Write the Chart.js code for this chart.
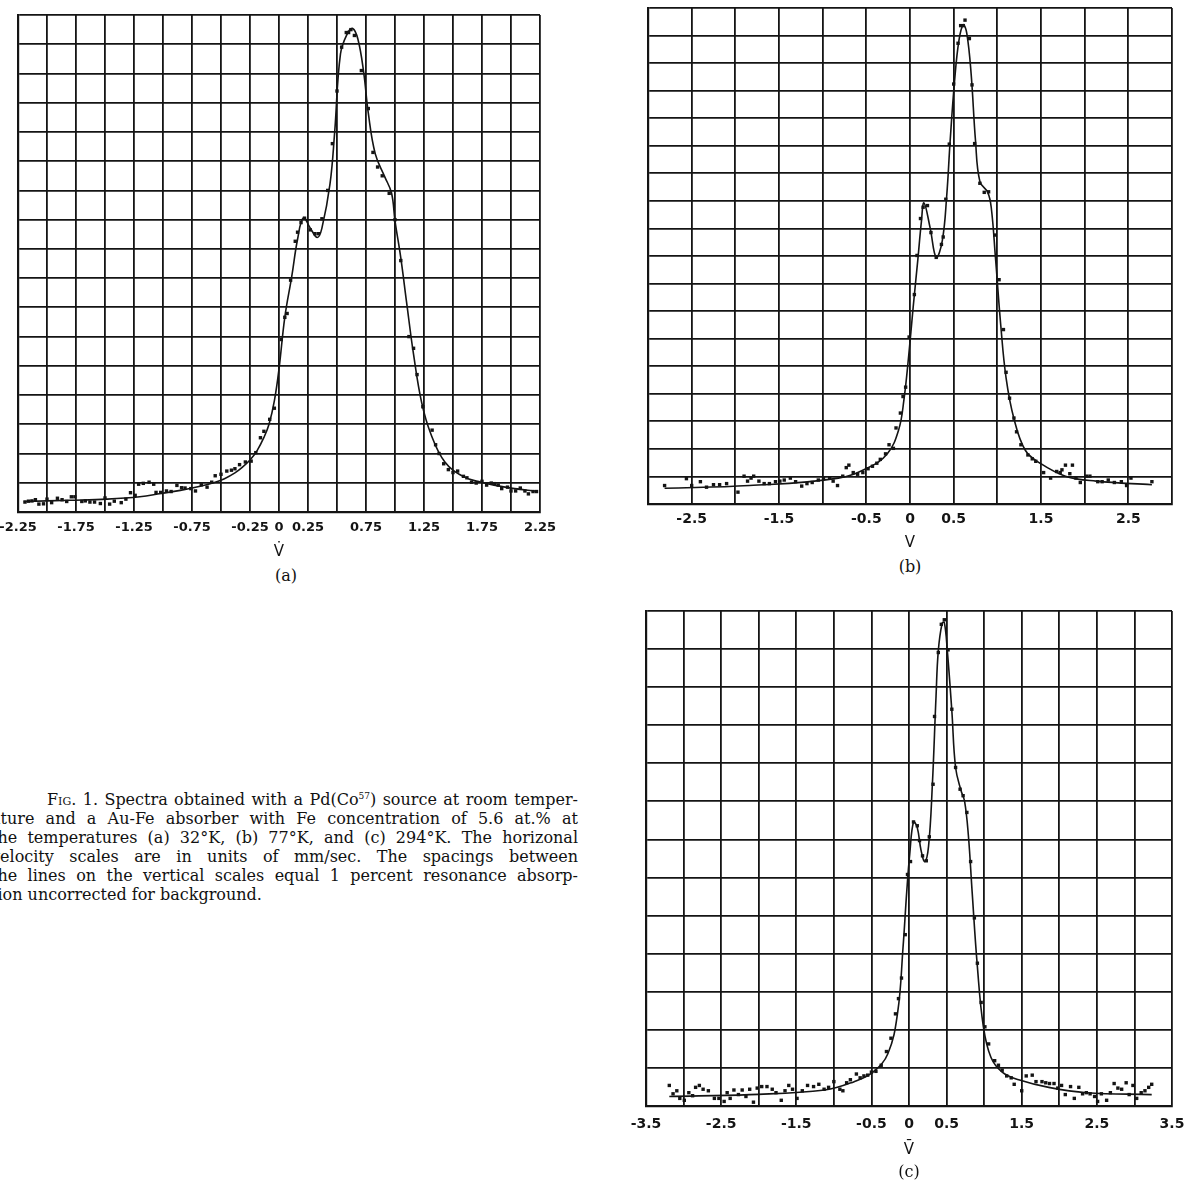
<!DOCTYPE html>
<html>
<head>
<meta charset="utf-8">
<script src="https://cdn.jsdelivr.net/npm/chart.js@4"></script>
<style>
  html, body { margin: 0; padding: 0; background: #fff; }
  body { width: 1184px; height: 1180px; position: relative; overflow: hidden; }
  .panel { position: absolute; }
  .tag { position: absolute; font-family: "DejaVu Serif", serif; font-size: 16px; color: #111; transform: translateX(-50%); }
  #caption { position: absolute; left: -9px; top: 790px; width: 587px; font-family: "DejaVu Serif", serif; font-size: 16px; line-height: 19px; color: #111; }
  #caption .ln { text-align: justify; text-align-last: justify; }
  #caption .first { text-indent: 56px; }
  #caption .last { text-align: left; text-align-last: left; }
  .sc { font-variant: small-caps; }
  sup { font-size: 9px; line-height: 0; }
</style>
</head>
<body>

<div class="panel" style="left:-12px; top:0; width:590px; height:565px;"><canvas id="plot-a"></canvas></div>
<div class="panel" style="left:600px; top:0; width:584px; height:556px;"><canvas id="plot-b"></canvas></div>
<div class="panel" style="left:600px; top:590px; width:620px; height:573px;"><canvas id="plot-c"></canvas></div>

<div class="tag" style="left:286px; top:566px;">(a)</div>
<div class="tag" style="left:910px; top:557px;">(b)</div>
<div class="tag" style="left:909px; top:1162px;">(c)</div>

<div id="caption">
  <div class="ln first"><span class="sc">Fig</span>. 1. Spectra obtained with a Pd(Co<sup>57</sup>) source at room temper-</div>
  <div class="ln">ature and a Au-Fe absorber with Fe concentration of 5.6 at.% at</div>
  <div class="ln">the temperatures (a) 32°K, (b) 77°K, and (c) 294°K. The horizonal</div>
  <div class="ln">velocity scales are in units of mm/sec. The spacings between</div>
  <div class="ln">the lines on the vertical scales equal 1 percent resonance absorp-</div>
  <div class="ln last">tion uncorrected for background.</div>
</div>

<script>
// (a) 32 K  -- y in percent absorption above the bottom edge
const ticksA = ['-2.25', '-1.75', '-1.25', '-0.75', '-0.25', '0', '0.25', '0.75', '1.25', '1.75', '2.25'];
const lineA = [
  [-2.20,0.36],[-1.80,0.40],[-1.48,0.44],[-1.20,0.52],[-1.02,0.63],[-0.85,0.74],[-0.68,0.88],
  [-0.55,1.02],[-0.47,1.14],[-0.38,1.34],[-0.32,1.52],[-0.25,1.78],[-0.19,2.09],[-0.13,2.55],
  [-0.086,3.0],[-0.04,3.8],[0,4.89],[0.05,6.66],[0.11,8.06],[0.16,9.33],[0.21,10.06],[0.27,9.71],
  [0.33,9.39],[0.37,9.71],[0.44,11.23],[0.48,13.0],[0.53,15.67],[0.59,16.37],[0.635,16.54],
  [0.68,16.18],[0.73,15.04],[0.77,13.64],[0.83,12.25],[0.91,11.48],[0.97,10.91],[1.0,9.96],
  [1.05,8.69],[1.10,7.17],[1.16,5.39],[1.23,3.74],[1.31,2.66],[1.43,1.71],[1.59,1.21],
  [1.74,1.02],[1.95,0.85],[2.23,0.70]
];
const dotsA = [
  [-2.19,0.34],[-2.16,0.37],[-2.13,0.38],[-2.10,0.42],[-2.07,0.27],[-2.03,0.28],[-2.00,0.44],
  [-1.96,0.32],[-1.91,0.47],[-1.87,0.42],[-1.83,0.36],[-1.79,0.52],[-1.76,0.52],[-1.70,0.36],
  [-1.67,0.38],[-1.63,0.34],[-1.59,0.34],[-1.54,0.29],[-1.50,0.48],[-1.46,0.27],[-1.42,0.37],
  [-1.36,0.32],[-1.32,0.44],[-1.28,0.66],[-1.24,0.57],[-1.21,0.95],[-1.17,0.98],[-1.12,1.02],
  [-1.08,0.95],[-1.06,0.67],[-1.02,0.67],[-0.97,0.72],[-0.93,0.70],[-0.88,0.91],[-0.84,0.83],
  [-0.81,0.82],[-0.76,0.80],[-0.72,0.72],[-0.67,0.93],[-0.62,0.85],[-0.58,1.02],[-0.55,1.24],
  [-0.50,1.29],[-0.45,1.40],[-0.41,1.43],[-0.38,1.48],[-0.34,1.62],[-0.29,1.71],[-0.24,1.74],
  [-0.20,2.03],[-0.16,2.54],[-0.13,2.76],[-0.08,3.17],[-0.04,3.55],[0.02,5.90],[0.05,6.66],
  [0.07,6.79],[0.10,7.93],[0.14,9.26],[0.16,9.57],[0.19,9.90],[0.22,10.05],[0.27,9.65],
  [0.31,9.52],[0.34,9.52],[0.37,10.03],[0.42,11.0],[0.46,12.6],[0.50,14.4],[0.54,15.9],
  [0.58,16.4],[0.60,16.4],[0.62,16.5],[0.65,16.3],[0.71,15.1],[0.77,13.8],[0.81,12.3],
  [0.85,11.8],[0.89,11.5],[0.95,10.9],[1.00,10.0],[1.05,8.6],[1.12,6.0],[1.16,5.6],[1.19,4.7],
  [1.24,3.6],[1.32,2.8],[1.35,2.3],[1.38,2.0],[1.42,1.65],[1.46,1.45],[1.50,1.35],[1.54,1.40],
  [1.59,1.22],[1.62,1.17],[1.66,1.02],[1.70,0.99],[1.75,1.05],[1.79,0.92],[1.83,0.99],
  [1.86,0.97],[1.89,0.92],[1.92,0.80],[1.97,0.85],[2.00,0.72],[2.04,0.72],[2.08,0.82],
  [2.12,0.72],[2.15,0.62],[2.19,0.70],[2.22,0.70]
];

// (b) 77 K
const ticksB = ['-2.5', '-1.5', '-0.5', '0', '0.5', '1.5', '2.5'];
const lineB = [
  [-2.81,0.57],[-1.84,0.67],[-0.82,0.94],[-0.48,1.32],[-0.26,1.82],[-0.13,2.69],[-0.07,3.77],
  [-0.015,5.38],[0.036,7.13],[0.09,8.88],[0.13,10.23],[0.16,10.93],[0.23,10.03],[0.30,8.95],
  [0.37,9.56],[0.42,11.17],[0.46,13.19],[0.51,15.34],[0.56,16.82],[0.61,17.39],[0.65,17.09],
  [0.70,15.61],[0.75,13.19],[0.80,11.71],[0.89,11.31],[0.93,10.77],[0.98,8.88],[1.04,6.46],
  [1.10,4.58],[1.19,3.10],[1.32,1.95],[1.49,1.48],[1.78,1.01],[2.13,0.83],[2.77,0.70]
];
const dotsB = [
  [-2.81,0.67],[-2.56,0.92],[-2.50,0.67],[-2.40,0.81],[-2.33,0.61],[-2.25,0.70],[-2.18,0.70],
  [-2.10,0.74],[-1.97,0.43],[-1.90,1.01],[-1.86,0.83],[-1.82,0.94],[-1.79,1.01],[-1.73,0.83],
  [-1.67,0.74],[-1.61,0.74],[-1.54,0.81],[-1.49,0.83],[-1.44,0.87],[-1.37,0.94],[-1.31,0.81],
  [-1.24,0.65],[-1.18,0.74],[-1.12,0.78],[-1.05,0.87],[-0.99,0.92],[-0.92,0.94],[-0.88,0.83],
  [-0.83,0.67],[-0.77,1.01],[-0.73,1.32],[-0.70,1.41],[-0.65,1.14],[-0.60,1.08],[-0.54,1.14],
  [-0.48,1.28],[-0.43,1.37],[-0.38,1.48],[-0.34,1.62],[-0.28,1.82],[-0.24,2.15],[-0.19,2.02],
  [-0.16,2.76],[-0.11,3.30],[-0.08,3.90],[-0.05,4.24],[-0.01,6.06],[0.05,7.60],[0.08,9.02],
  [0.12,10.36],[0.15,10.77],[0.20,10.83],[0.24,9.85],[0.30,8.95],[0.36,9.42],[0.38,9.69],
  [0.41,11.06],[0.45,13.06],[0.50,15.24],[0.55,16.72],[0.58,17.36],[0.61,17.36],[0.63,17.56],
  [0.68,16.89],[0.71,15.21],[0.74,13.08],[0.80,11.64],[0.85,11.31],[0.90,11.33],[0.97,9.76],
  [1.02,8.14],[1.07,6.33],[1.10,4.78],[1.14,3.84],[1.19,3.12],[1.22,2.62],[1.27,2.15],
  [1.35,1.78],[1.40,1.64],[1.44,1.55],[1.53,1.14],[1.61,0.94],[1.68,1.18],[1.72,1.14],
  [1.74,1.24],[1.78,1.41],[1.83,1.10],[1.86,1.41],[1.90,0.94],[1.95,0.78],[2.02,1.01],
  [2.06,1.01],[2.15,0.81],[2.20,0.81],[2.27,0.87],[2.34,0.78],[2.42,0.81],[2.48,0.67],
  [2.53,0.94],[2.77,0.81]
];

// (c) 294 K
const ticksC = ['-3.5', '-2.5', '-1.5', '-0.5', '0', '0.5', '1.5', '2.5', '3.5'];
const lineC = [
  [-3.19,0.25],[-2.12,0.30],[-1.12,0.42],[-0.73,0.64],[-0.48,0.89],[-0.28,1.38],[-0.15,2.47],
  [-0.08,4.15],[-0.03,5.63],[0.01,6.62],[0.06,7.46],[0.11,7.31],[0.16,6.72],[0.21,6.42],
  [0.26,6.82],[0.31,8.40],[0.36,10.77],[0.39,11.96],[0.44,12.67],[0.47,12.70],[0.51,11.96],
  [0.57,10.38],[0.62,8.89],[0.69,8.30],[0.74,8.00],[0.79,7.11],[0.84,5.63],[0.91,3.66],
  [0.99,2.08],[1.09,1.28],[1.24,0.89],[1.46,0.69],[1.86,0.49],[2.36,0.35],[3.23,0.30]
];
const dotsC = [
  [-3.19,0.54],[-3.14,0.32],[-3.09,0.40],[-3.05,0.20],[-2.99,0.15],[-2.93,0.35],[-2.88,0.27],
  [-2.84,0.49],[-2.79,0.54],[-2.74,0.44],[-2.67,0.40],[-2.59,0.20],[-2.53,0.20],[-2.46,0.12],
  [-2.42,0.35],[-2.38,0.20],[-2.33,0.42],[-2.27,0.30],[-2.22,0.42],[-2.17,0.25],[-2.12,0.44],
  [-2.07,0.10],[-2.02,0.47],[-1.96,0.51],[-1.89,0.51],[-1.82,0.44],[-1.77,0.35],[-1.70,0.15],
  [-1.65,0.40],[-1.60,0.54],[-1.55,0.44],[-1.49,0.20],[-1.42,0.40],[-1.35,0.54],[-1.27,0.51],
  [-1.20,0.57],[-1.13,0.44],[-1.07,0.49],[-1.00,0.64],[-0.92,0.44],[-0.88,0.40],[-0.83,0.61],
  [-0.78,0.69],[-0.70,0.84],[-0.65,0.74],[-0.60,0.79],[-0.55,0.81],[-0.50,0.89],[-0.44,0.91],
  [-0.37,1.07],[-0.30,1.43],[-0.24,1.78],[-0.18,2.42],[-0.14,2.82],[-0.10,3.36],[-0.05,4.50],
  [-0.02,6.08],[0.02,6.42],[0.06,7.46],[0.11,7.36],[0.14,6.97],[0.18,6.57],[0.23,6.44],
  [0.27,7.07],[0.32,8.45],[0.34,10.23],[0.39,11.91],[0.43,12.65],[0.47,12.77],[0.52,11.98],
  [0.57,10.42],[0.62,8.89],[0.68,8.32],[0.72,8.15],[0.77,7.71],[0.82,6.42],[0.87,4.94],
  [0.91,3.75],[0.96,2.72],[1.01,2.08],[1.06,1.63],[1.14,1.19],[1.19,1.07],[1.24,0.94],
  [1.30,0.79],[1.36,0.74],[1.40,0.57],[1.50,0.40],[1.56,0.79],[1.64,0.81],[1.69,0.64],
  [1.77,0.64],[1.82,0.61],[1.87,0.59],[1.93,0.59],[1.98,0.47],[2.03,0.54],[2.08,0.30],
  [2.15,0.51],[2.20,0.20],[2.26,0.49],[2.31,0.32],[2.36,0.35],[2.41,0.32],[2.47,0.25],
  [2.51,0.12],[2.56,0.32],[2.63,0.15],[2.68,0.35],[2.73,0.59],[2.78,0.47],[2.83,0.44],
  [2.89,0.61],[2.93,0.30],[2.98,0.54],[3.03,0.20],[3.09,0.35],[3.14,0.40],[3.19,0.49],
  [3.23,0.57]
];

const ink = '#141414';

function tickText(labels) {
  return function (value) {
    const hit = labels.find(l => Math.abs(parseFloat(l) - value) < 1e-6);
    return hit === undefined ? '' : hit;
  };
}

function toXY(list) {
  return list.map(p => ({ x: p[0], y: p[1] }));
}

function drawPanel(id, line, dots, labels, cfg) {
  return new Chart(id, {
    type: 'scatter',
    data: {
      datasets: [
        {
          data: toXY(line),
          showLine: true,
          pointRadius: 0,
          borderColor: ink,
          borderWidth: 1.6,
          tension: 0.4
        },
        {
          data: toXY(dots),
          pointStyle: 'rect',
          pointRadius: 2.4,
          backgroundColor: ink,
          borderWidth: 0
        }
      ]
    },
    options: {
      responsive: true,
      maintainAspectRatio: false,
      animation: false,
      layout: { padding: cfg.pad },
      plugins: {
        legend: { display: false },
        tooltip: { enabled: false }
      },
      scales: {
        x: {
          type: 'linear',
          min: cfg.min,
          max: cfg.max,
          ticks: {
            stepSize: cfg.step,
            maxTicksLimit: 100,
            autoSkip: false,
            maxRotation: 0,
            padding: cfg.tickPad,
            color: ink,
            font: { family: 'DejaVu Sans', size: cfg.fontSize, weight: 'bold' },
            callback: tickText(labels)
          },
          grid: { color: ink, lineWidth: 1.8, drawTicks: false },
          border: { color: ink, width: 2.2 },
          title: {
            display: true,
            text: cfg.title,
            color: ink,
            font: { family: 'DejaVu Sans', size: 15, lineHeight: 1.2 },
            padding: { top: 0, bottom: 4 }
          },
          afterFit: s => { s.height = cfg.axisH; }
        },
        y: {
          min: 0,
          max: cfg.rows,
          ticks: { display: false, stepSize: 1 },
          grid: { color: ink, lineWidth: 1.8, drawTicks: false },
          border: { color: ink, width: 2.2 },
          afterFit: s => { s.width = 0; }
        }
      }
    }
  });
}

drawPanel('plot-a', lineA, dotsA, ticksA, {
  min: -2.25, max: 2.25, step: 0.25, rows: 17,
  pad: { left: 30, right: 38, top: 15, bottom: 0 },
  axisH: 53, tickPad: 8, fontSize: 13, title: 'V\u0307'
});

drawPanel('plot-b', lineB, dotsB, ticksB, {
  min: -3, max: 3, step: 0.5, rows: 18,
  pad: { left: 48, right: 12, top: 8, bottom: 0 },
  axisH: 52, tickPad: 7, fontSize: 14, title: 'V'
});

drawPanel('plot-c', lineC, dotsC, ticksC, {
  min: -3.5, max: 3.5, step: 0.5, rows: 13,
  pad: { left: 46, right: 48, top: 21, bottom: 0 },
  axisH: 57, tickPad: 10, fontSize: 14, title: 'V\u0304'
});
</script>
</body>
</html>
